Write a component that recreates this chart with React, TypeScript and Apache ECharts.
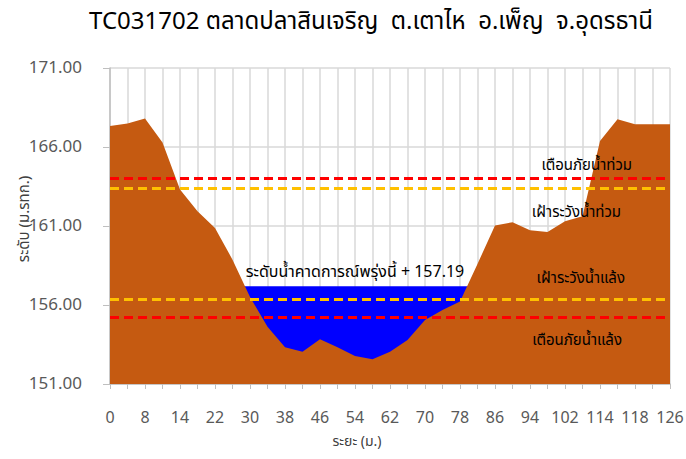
import React, { useEffect, useRef } from "react";
import * as echarts from "echarts";

const titleText = "TC031702 ตลาดปลาสินเจริญ  ต.เตาไห  อ.เพ็ญ  จ.อุดรธานี";
const distances = [
  "0", "4", "8", "11", "14", "18", "22", "26", "30", "34", "38", "42", "46", "50", "54", "58",
  "62", "66", "70", "74", "78", "82", "86", "90", "94", "98", "102", "108", "114", "116", "118", "122", "126",
];
const groundLevels = [
  167.33, 167.49, 167.8, 166.28, 163.31, 161.93, 160.88, 158.87, 156.5, 154.63, 153.32, 153.04,
  153.83, 153.32, 152.77, 152.56, 153.04, 153.78, 155.05, 155.69, 156.22, 158.6, 161.03, 161.24,
  160.73, 160.62, 161.3, 161.62, 166.38, 167.76, 167.44, 167.44, 167.44,
];
const waterLevel = 157.19;
const waterFrom = 7;
const waterTo = 21;
const floodWarning = 164.0;
const floodWatch = 163.38;
const droughtWatch = 156.39;
const droughtWarning = 155.22;
const labelFloodWarning = "เตือนภัยน้ำท่วม";
const labelFloodWatch = "เฝ้าระวังน้ำท่วม";
const labelDroughtWatch = "เฝ้าระวังน้ำแล้ง";
const labelDroughtWarning = "เตือนภัยน้ำแล้ง";
const waterLabel = "ระดับน้ำคาดการณ์พรุ่งนี้ + 157.19";
const yTicks = { min: 151, max: 171, interval: 5 };

const FONT = "Tahoma, 'Noto Sans Thai', 'Noto Sans', sans-serif";

export default function App() {
  const ref = useRef<HTMLDivElement>(null);
  useEffect(() => {
    document.body.style.margin = "0";
    if (!ref.current) return;
    const chart = echarts.init(ref.current, undefined, { renderer: "svg" });
    const waterData = distances.map((_, i) => (i >= waterFrom && i <= waterTo ? waterLevel : null));
    const annot = (text: string, value: number, pos: string, dy: number, color: string) => ({
      yAxis: value,
      lineStyle: { color, type: [9, 5], width: 3 },
      label: {
        show: true,
        formatter: text,
        position: pos,
        distance: dy,
        padding: [0, 32, 0, 0],
        color: "#000",
        fontFamily: FONT,
        fontSize: 15,
      },
    });
    chart.setOption({
      animation: false,
      backgroundColor: "#fff",
      title: {
        text: titleText,
        left: 366,
        textAlign: "center",
        top: 5,
        textStyle: { fontFamily: FONT, fontSize: 24, fontWeight: "normal", color: "#000" },
      },
      grid: { left: 110, right: 16, top: 68, bottom: 75, outerBoundsMode: "none", containLabel: false },
      xAxis: {
        type: "category",
        data: distances,
        boundaryGap: false,
        name: "ระยะ (ม.)",
        nameLocation: "middle",
        nameGap: 50,
        nameMoveOverlap: false,
        nameTextStyle: { fontFamily: FONT, fontSize: 14, color: "#404040", padding: [0, 66, 0, 0] },
        axisLine: { show: true, lineStyle: { color: "#bfbfbf", width: 1.5 } },
        axisTick: { show: true, interval: 0, length: 5, lineStyle: { color: "#bfbfbf" } },
        axisLabel: { interval: 1, margin: 26, fontFamily: FONT, fontSize: 16, color: "#595959" },
        splitLine: { show: true, interval: 0, lineStyle: { color: "#d9d9d9", width: 1.5 } },
      },
      yAxis: {
        type: "value",
        min: yTicks.min,
        max: yTicks.max,
        interval: yTicks.interval,
        name: "ระดับ (ม.รทก.)",
        nameLocation: "middle",
        nameGap: 78,
        nameMoveOverlap: false,
        nameTextStyle: { fontFamily: FONT, fontSize: 15, color: "#404040", padding: [0, 0, 0, 14] },
        axisLine: { show: true, lineStyle: { color: "#bfbfbf", width: 1.5 } },
        axisTick: { show: true, length: 7, lineStyle: { color: "#bfbfbf" } },
        axisLabel: {
          formatter: (v: number) => v.toFixed(2),
          margin: 28,
          fontFamily: FONT,
          fontSize: 17,
          color: "#595959",
        },
        splitLine: { show: true, lineStyle: { color: "#d9d9d9", width: 1.5 } },
      },
      series: [
        {
          name: "water",
          type: "line",
          data: waterData,
          symbol: "none",
          z: 2,
          lineStyle: { color: "#0000ff", width: 0 },
          areaStyle: { color: "#0000ff", opacity: 1 },
        },
        {
          name: "ground",
          type: "line",
          data: groundLevels,
          symbol: "none",
          z: 3,
          lineStyle: { color: "#c55a11", width: 0 },
          areaStyle: { color: "#c55a11", opacity: 1 },
          markLine: {
            silent: true,
            symbol: "none",
            data: [
              annot(labelFloodWarning, floodWarning, "insideEndTop", 6, "#ff0000"),
              annot(labelFloodWatch, floodWatch, "insideEndBottom", 17, "#ffc000"),
              annot(labelDroughtWatch, droughtWatch, "insideEndTop", 13, "#ffc000"),
              annot(labelDroughtWarning, droughtWarning, "insideEndBottom", 16, "#ff0000"),
              [
                {
                  coord: [waterFrom, waterLevel],
                  lineStyle: { color: "rgba(0,0,0,0)", width: 0 },
                  label: {
                    show: true,
                    formatter: waterLabel,
                    position: "middle",
                    distance: 6,
                    color: "#000",
                    fontFamily: FONT,
                    fontSize: 16,
                  },
                },
                { coord: [waterTo, waterLevel] },
              ],
            ],
          },
        },
      ],
    });
    return () => chart.dispose();
  }, []);
  return <div ref={ref} style={{ width: 686, height: 459 }} />;
}
